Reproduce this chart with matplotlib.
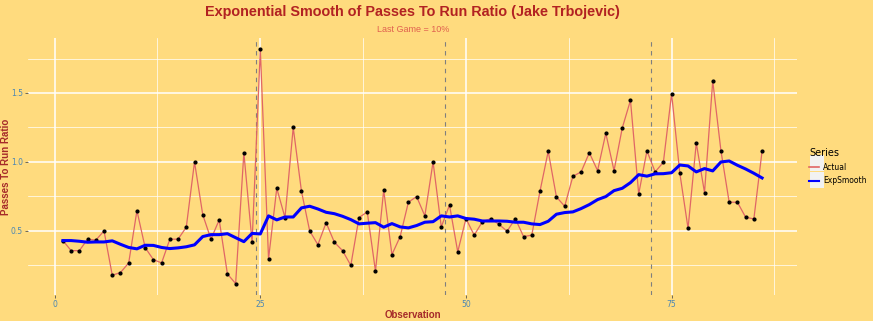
import matplotlib.pyplot as plt
import matplotlib.patches as mpatches

# passes to run ratio per game (Jake Trbojevic)
actual = [0.43, 0.357, 0.357, 0.44, 0.433, 0.5, 0.179, 0.198, 0.268, 0.647,
          0.379, 0.292, 0.268, 0.44, 0.44, 0.527, 1.0, 0.618, 0.44, 0.58,
          0.188, 0.118, 1.067, 0.418, 1.817, 0.297, 0.809, 0.597, 1.25, 0.788,
          0.5, 0.4, 0.56, 0.418, 0.357, 0.25, 0.597, 0.638, 0.208, 0.797,
          0.328, 0.459, 0.708, 0.749, 0.609, 1.0, 0.529, 0.688, 0.348, 0.59,
          0.469, 0.567, 0.589, 0.548, 0.498, 0.589, 0.459, 0.469, 0.788, 1.077,
          0.746, 0.679, 0.896, 0.928, 1.067, 0.937, 1.208, 0.937, 1.246, 1.447,
          0.768, 1.08, 0.928, 0.998, 1.495, 0.918, 0.518, 1.138, 0.778, 1.587,
          1.08, 0.708, 0.708, 0.599, 0.587, 1.08]

exp_smooth = [0.43, 0.43, 0.425, 0.418, 0.42, 0.42, 0.428, 0.403, 0.38, 0.37,
              0.396, 0.395, 0.38, 0.372, 0.377, 0.385, 0.399, 0.459, 0.473, 0.473,
              0.48, 0.451, 0.422, 0.482, 0.478, 0.609, 0.58, 0.601, 0.601, 0.667,
              0.679, 0.659, 0.635, 0.625, 0.606, 0.582, 0.551, 0.556, 0.56, 0.527,
              0.553, 0.529, 0.522, 0.539, 0.563, 0.567, 0.609, 0.601, 0.609, 0.59,
              0.585, 0.572, 0.572, 0.572, 0.57, 0.563, 0.563, 0.551, 0.546, 0.57,
              0.621, 0.633, 0.638, 0.662, 0.691, 0.727, 0.749, 0.792, 0.809, 0.85,
              0.908, 0.897, 0.914, 0.915, 0.922, 0.978, 0.971, 0.928, 0.952, 0.935,
              1.0, 1.007, 0.976, 0.949, 0.918, 0.884]

observation = list(range(1, len(actual) + 1))
season_breaks = [24.5, 47.5, 72.5]

bg = '#FFDB7E'
dark_red = '#A52A2A'
tick_col = '#4A86B4'

fig = plt.figure(figsize=(8.73, 3.21), dpi=100, facecolor=bg)
ax = fig.add_axes([0.032, 0.080, 0.881, 0.803])
ax.set_facecolor(bg)

ax.plot(observation, actual, color='#E06666', lw=0.9, zorder=3)
ax.scatter(observation, actual, s=4, color='black', zorder=4)
ax.plot(observation, exp_smooth, color='#0000FF', lw=2.2, zorder=5)

for brk in season_breaks:
    ax.axvline(brk, color='#7F7F7F', lw=0.8, ls=(0, (4, 4)), zorder=2)

ax.set_xlim(-3.25, 90.25)
ax.set_ylim(0.033, 1.902)
ax.set_xticks([0, 25, 50, 75])
ax.set_xticks([12.5, 37.5, 62.5, 87.5], minor=True)
ax.set_yticks([0.5, 1.0, 1.5])
ax.set_yticklabels(['0.5', '1.0', '1.5'])
ax.set_yticks([0.25, 0.75, 1.25, 1.75], minor=True)
ax.grid(which='major', color='white', lw=1.1, zorder=0)
ax.grid(which='minor', color='white', lw=0.5, zorder=0)
ax.set_axisbelow(True)
for sp in ax.spines.values():
    sp.set_visible(False)
ax.tick_params(which='major', length=2, width=0.6, color='#555555', labelsize=5.5,
               labelcolor=tick_col, pad=1.5)
ax.tick_params(which='minor', length=0)

ax.set_xlabel('Observation', color=dark_red, fontsize=7, fontweight='bold',
              family='Liberation Sans', labelpad=0.5)
ax.set_ylabel('Passes To Run Ratio', color=dark_red, fontsize=7, fontweight='bold',
              family='Liberation Sans')
ax.yaxis.set_label_coords(-0.0225, 0.5)

fig.text(0.473, 0.962, 'Exponential Smooth of Passes To Run Ratio (Jake Trbojevic)',
         ha='center', va='center', color='#B22222', fontsize=10.4, fontweight='bold',
         family='Liberation Sans')
fig.text(0.473, 0.908, 'Last Game = 10%', ha='center', va='center',
         color='#E0604F', fontsize=6.5, family='Liberation Sans')

# legend
for yk in (0.492, 0.439):
    fig.patches.append(mpatches.Rectangle((0.928, yk - 0.024), 0.016, 0.048,
                                          transform=fig.transFigure,
                                          facecolor='#F2F2F2', edgecolor='none'))
h1, = ax.plot([], [], color='#E06666', lw=1.2, label='Actual')
h2, = ax.plot([], [], color='#0000FF', lw=1.5, label='ExpSmooth')
leg = fig.legend(handles=[h1, h2], title='Series', loc='upper left',
                 bbox_to_anchor=(0.921, 0.555), frameon=False, fontsize=5.5,
                 title_fontsize=7, handlelength=1.3, handletextpad=0.5,
                 labelspacing=0.6, borderpad=0.2)
leg._legend_box.align = 'left'

fig.savefig('out.png', dpi=100, facecolor=bg)
